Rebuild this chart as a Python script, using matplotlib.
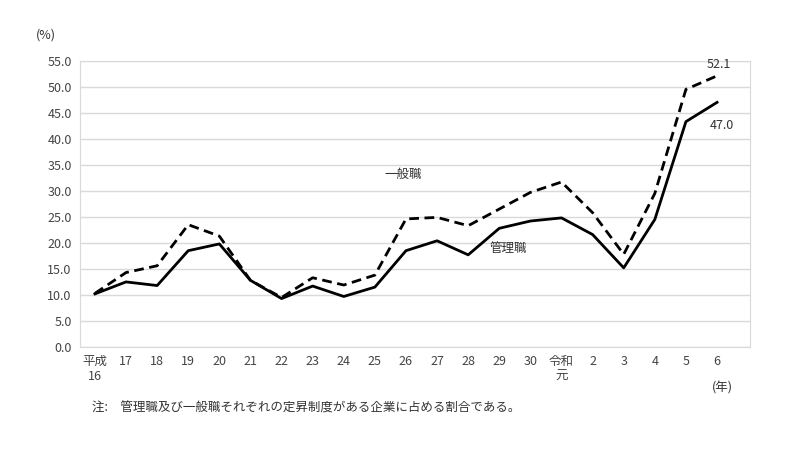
import matplotlib.pyplot as plt

plt.rcParams["font.family"] = "Noto Sans CJK JP"

years = ["平成\n16", "17", "18", "19", "20", "21", "22", "23", "24", "25", "26",
         "27", "28", "29", "30", "令和\n元", "2", "3", "4", "5", "6"]
kanri = [10.2, 12.5, 11.8, 18.5, 19.8, 12.8, 9.3, 11.7, 9.7, 11.5, 18.5,
         20.4, 17.7, 22.8, 24.2, 24.8, 21.6, 15.2, 24.5, 43.3, 47.0]
ippan = [10.3, 14.3, 15.6, 23.5, 21.3, 12.8, 9.5, 13.3, 11.9, 13.8, 24.6,
         24.9, 23.3, 26.5, 29.7, 31.7, 25.8, 17.8, 29.5, 49.5, 52.1]
yticks = [i * 5.0 for i in range(12)]

fig = plt.figure(figsize=(8, 4.5), dpi=100)
ax = fig.add_axes([0.1, 0.229, 0.8375, 0.636])
x = range(len(years))
ax.plot(x, ippan, color="black", lw=2, ls=(0, (3.5, 2)))
ax.plot(x, kanri, color="black", lw=2)

ax.set_xlim(-0.48, 21.06)
ax.set_ylim(0, 55)
ax.set_yticks(yticks)
ax.set_yticklabels(["%.1f" % v for v in yticks], fontsize=9, color="#444444")
ax.set_xticks(list(x))
ax.set_xticklabels(years, fontsize=9, color="#444444", va="top")
ax.tick_params(length=0, pad=6)
ax.grid(axis="y", color="#d9d9d9", lw=1)
ax.set_axisbelow(True)
for s in ax.spines.values():
    s.set_color("#d9d9d9")

ax.text(19.65, ippan[-1] + 1.5, "52.1", fontsize=9, color="#333333")
ax.text(19.75, kanri[-1] - 5.2, "47.0", fontsize=9, color="#333333")
ax.text(9.3, 32.5, "一般職", fontsize=9, color="#333333")
ax.text(12.7, 18.2, "管理職", fontsize=9, color="#333333")

fig.text(0.045, 0.915, "(%)", fontsize=9, color="#333333")
fig.text(0.89, 0.13, "(年)", fontsize=9, color="#333333")
fig.text(0.115, 0.085, "注:　管理職及び一般職それぞれの定昇制度がある企業に占める割合である。",
         fontsize=9, color="#333333")

fig.savefig("out.png")
